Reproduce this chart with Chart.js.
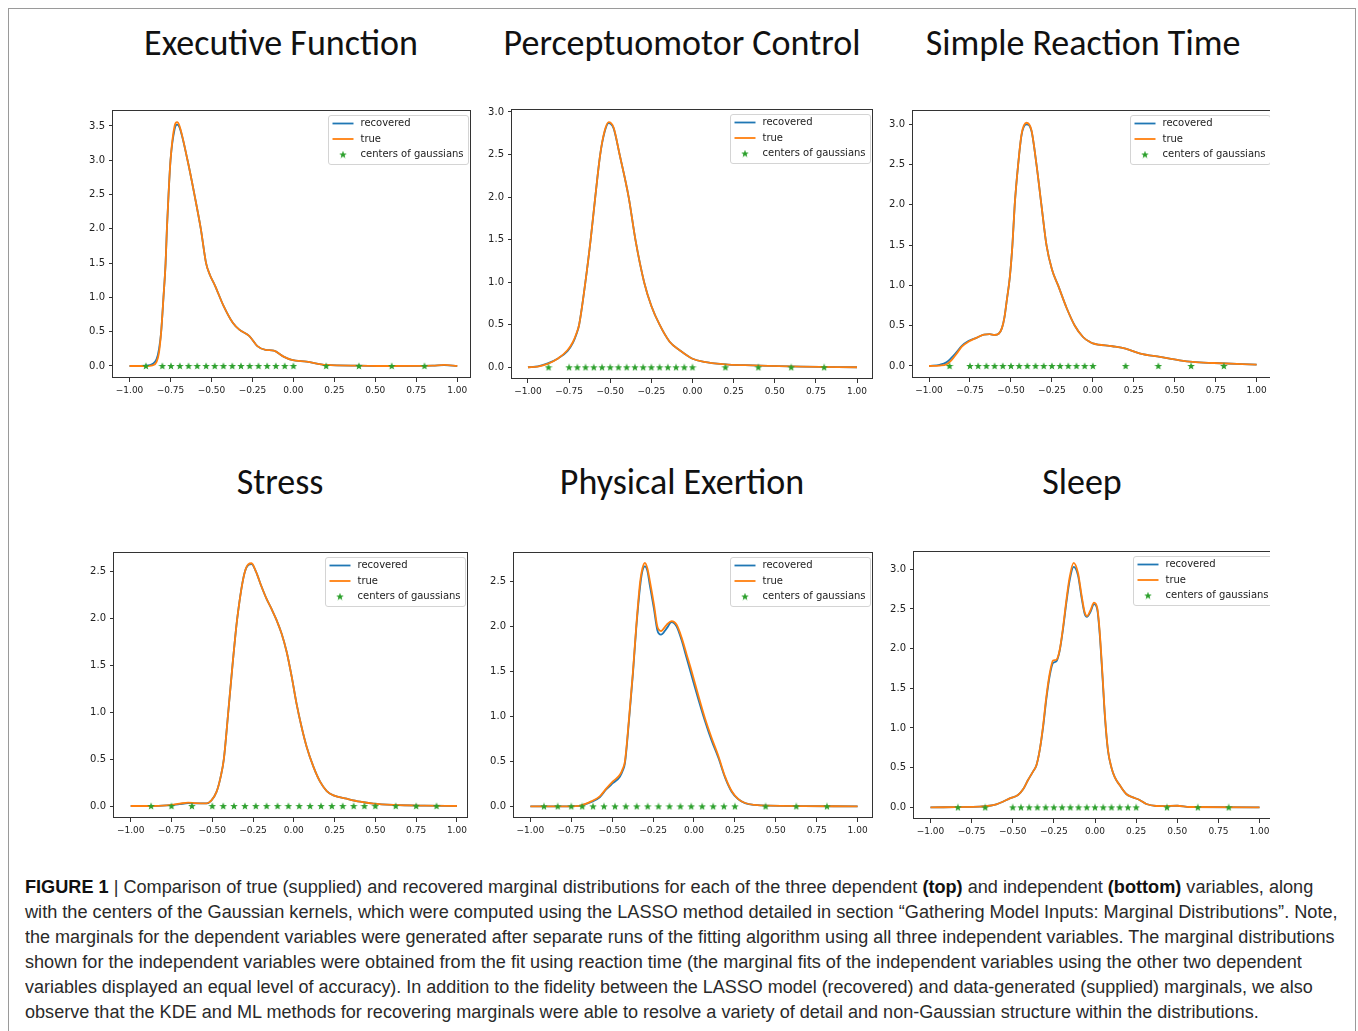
<!DOCTYPE html>
<html>
<head>
<meta charset="utf-8">
<script src="https://cdn.jsdelivr.net/npm/chart.js@4.4.1/dist/chart.umd.min.js"></script>
<style>
  html,body{margin:0;padding:0;background:#fff;}
  body{width:1358px;height:1031px;overflow:hidden;position:relative;}
  .frame{position:absolute;left:8px;top:8px;width:1348px;height:1100px;border:1px solid #9a9a9a;box-sizing:border-box;}
  .title{position:absolute;font-family:Carlito,Calibri,Lato,sans-serif;font-size:36px;line-height:36px;color:#111;white-space:nowrap;transform:translateX(-50%);}
  .cv{position:absolute;}
  .clip{position:absolute;left:0;top:0;width:1270px;height:1031px;overflow:hidden;}
  .cap{position:absolute;left:25px;font-family:"Liberation Sans",Arial,sans-serif;font-size:18px;line-height:18px;color:#2a2a2a;white-space:nowrap;transform-origin:0 50%;}
  .cap b{color:#111;}
</style>
</head>
<body>
<div class="frame"></div>
<div class="title" style="left:281px;top:25px;">Executive Function</div>
<div class="title" style="left:682px;top:25px;">Perceptuomotor Control</div>
<div class="title" style="left:1083px;top:25px;">Simple Reaction Time</div>
<div class="title" style="left:280px;top:464px;">Stress</div>
<div class="title" style="left:682px;top:464px;">Physical Exertion</div>
<div class="title" style="left:1082px;top:464px;">Sleep</div>
<div id="clip" class="clip"></div>

<div class="cap" data-w="1288" style="top:878px;"><b>FIGURE 1</b> | Comparison of true (supplied) and recovered marginal distributions for each of the three dependent <b>(top)</b> and independent <b>(bottom)</b> variables, along</div>
<div class="cap" data-w="1313" style="top:903px;">with the centers of the Gaussian kernels, which were computed using the LASSO method detailed in section “Gathering Model Inputs: Marginal Distributions”. Note,</div>
<div class="cap" data-w="1309" style="top:928px;">the marginals for the dependent variables were generated after separate runs of the fitting algorithm using all three independent variables. The marginal distributions</div>
<div class="cap" data-w="1277" style="top:953px;">shown for the independent variables were obtained from the fit using reaction time (the marginal fits of the independent variables using the other two dependent</div>
<div class="cap" data-w="1288" style="top:978px;">variables displayed an equal level of accuracy). In addition to the fidelity between the LASSO model (recovered) and data-generated (supplied) marginals, we also</div>
<div class="cap" data-w="0" style="top:1003px;">observe that the KDE and ML methods for recovering marginals were able to resolve a variety of detail and non-Gaussian structure within the distributions.</div>

<script>
// ---------------- DATA ----------------
const xTicks = [-1, -0.75, -0.5, -0.25, 0, 0.25, 0.5, 0.75, 1];
const yTicks35 = [0, 0.5, 1, 1.5, 2, 2.5, 3, 3.5];
const yTicks30 = [0, 0.5, 1, 1.5, 2, 2.5, 3];
const yTicks25 = [0, 0.5, 1, 1.5, 2, 2.5];
const legendLabels = ['recovered', 'true', 'centers of gaussians'];

// Executive Function
const efX = [-1.0, -0.9, -0.86, -0.835, -0.82, -0.807, -0.793, -0.78, -0.772, -0.762, -0.75, -0.725, -0.71, -0.695, -0.646, -0.604, -0.565, -0.533, -0.51, -0.478, -0.427, -0.37, -0.33, -0.27, -0.22, -0.17, -0.12, -0.06, -0.01, 0.08, 0.2, 0.4, 0.55, 0.85, 0.92, 1.0];
const efTrue = [0, 0, 0.01, 0.06, 0.2, 0.5, 1.0, 1.5, 2.0, 2.5, 3.0, 3.5, 3.555, 3.5, 3.0, 2.5, 2.0, 1.5, 1.33, 1.17, 0.88, 0.63, 0.53, 0.44, 0.29, 0.235, 0.224, 0.136, 0.088, 0.063, 0.015, 0.005, 0, 0.005, 0.015, 0];
const efRec = [0, 0.005, 0.03, 0.1, 0.25, 0.5, 1.0, 1.5, 2.0, 2.5, 3.0, 3.45, 3.52, 3.48, 3.0, 2.5, 2.0, 1.5, 1.33, 1.17, 0.88, 0.63, 0.53, 0.44, 0.29, 0.235, 0.224, 0.136, 0.088, 0.063, 0.015, 0.005, 0, 0.005, 0.012, 0];
const efCenters = [-0.9, -0.8, -0.747, -0.693, -0.64, -0.587, -0.533, -0.48, -0.427, -0.373, -0.32, -0.267, -0.213, -0.16, -0.107, -0.053, 0.0, 0.2, 0.4, 0.6, 0.8];

// Perceptuomotor Control
const pcX = [-1.0, -0.94, -0.88, -0.82, -0.76, -0.726, -0.705, -0.689, -0.651, -0.619, -0.591, -0.561, -0.535, -0.51, -0.48, -0.443, -0.388, -0.347, -0.294, -0.25, -0.2, -0.139, -0.078, 0.0, 0.07, 0.2, 0.32, 0.46, 0.66, 1.0];
const pcTrue = [0, 0.008, 0.04, 0.1, 0.2, 0.3, 0.4, 0.5, 1.0, 1.5, 2.0, 2.5, 2.77, 2.88, 2.82, 2.5, 2.0, 1.5, 1.0, 0.72, 0.5, 0.3, 0.2, 0.1, 0.063, 0.035, 0.024, 0.016, 0.008, 0];
const pcRec = [0, 0.01, 0.045, 0.1, 0.19, 0.29, 0.39, 0.5, 1.0, 1.5, 2.0, 2.5, 2.76, 2.87, 2.81, 2.5, 2.0, 1.5, 1.0, 0.72, 0.5, 0.3, 0.2, 0.1, 0.063, 0.035, 0.024, 0.016, 0.008, 0];
const pcCenters = [-0.875, -0.75, -0.7, -0.65, -0.6, -0.55, -0.5, -0.45, -0.4, -0.35, -0.3, -0.25, -0.2, -0.15, -0.1, -0.05, 0.0, 0.2, 0.4, 0.6, 0.8];

// Simple Reaction Time
const srX = [-1.0, -0.935, -0.894, -0.864, -0.833, -0.8, -0.76, -0.71, -0.665, -0.63, -0.6, -0.575, -0.555, -0.54, -0.525, -0.507, -0.491, -0.477, -0.456, -0.435, -0.405, -0.375, -0.344, -0.314, -0.283, -0.25, -0.212, -0.16, -0.11, -0.06, -0.02, 0.0, 0.12, 0.2, 0.29, 0.41, 0.53, 0.61, 0.74, 1.0];
const srTrue = [0, 0.005, 0.02, 0.07, 0.15, 0.24, 0.30, 0.35, 0.39, 0.395, 0.385, 0.4, 0.47, 0.6, 0.82, 1.1, 1.5, 2.0, 2.5, 2.88, 3.02, 2.93, 2.5, 2.0, 1.5, 1.2, 1.0, 0.72, 0.5, 0.36, 0.3, 0.28, 0.245, 0.215, 0.153, 0.112, 0.07, 0.05, 0.037, 0.017];
const srRec = [0, 0.015, 0.045, 0.1, 0.17, 0.25, 0.31, 0.35, 0.39, 0.395, 0.385, 0.4, 0.47, 0.6, 0.82, 1.1, 1.5, 2.0, 2.5, 2.87, 3.0, 2.92, 2.5, 2.0, 1.5, 1.2, 1.0, 0.72, 0.5, 0.36, 0.3, 0.28, 0.245, 0.215, 0.153, 0.112, 0.07, 0.05, 0.037, 0.017];
const srCenters = [-0.875, -0.75, -0.7, -0.65, -0.6, -0.55, -0.5, -0.45, -0.4, -0.35, -0.3, -0.25, -0.2, -0.15, -0.1, -0.05, 0.0, 0.2, 0.4, 0.6, 0.8];

// Stress
const stX = [-1.0, -0.88, -0.78, -0.7, -0.648, -0.6, -0.535, -0.505, -0.474, -0.45, -0.429, -0.402, -0.376, -0.347, -0.3, -0.259, -0.232, -0.2, -0.167, -0.136, -0.105, -0.075, -0.044, -0.013, 0.017, 0.048, 0.079, 0.12, 0.161, 0.202, 0.243, 0.324, 0.406, 0.488, 0.61, 0.8, 1.0];
const stTrue = [0, 0, 0.007, 0.025, 0.036, 0.03, 0.028, 0.06, 0.15, 0.3, 0.5, 1.0, 1.5, 2.0, 2.5, 2.59, 2.5, 2.35, 2.21, 2.1, 1.98, 1.84, 1.645, 1.38, 1.09, 0.84, 0.63, 0.42, 0.26, 0.16, 0.114, 0.078, 0.046, 0.025, 0.011, 0.003, 0];
const stRec = [0, 0, 0.006, 0.02, 0.03, 0.027, 0.027, 0.06, 0.15, 0.3, 0.5, 1.0, 1.5, 2.0, 2.5, 2.58, 2.5, 2.35, 2.21, 2.1, 1.98, 1.84, 1.645, 1.38, 1.09, 0.84, 0.63, 0.42, 0.26, 0.16, 0.114, 0.078, 0.046, 0.025, 0.011, 0.003, 0];
const stCenters = [-0.875, -0.75, -0.625, -0.5, -0.433, -0.367, -0.3, -0.233, -0.167, -0.1, -0.033, 0.033, 0.1, 0.167, 0.233, 0.3, 0.367, 0.433, 0.5, 0.625, 0.75, 0.875];

// Physical Exertion
const peX = [-1.0, -0.77, -0.688, -0.627, -0.576, -0.535, -0.494, -0.453, -0.435, -0.422, -0.396, -0.373, -0.353, -0.329, -0.315, -0.3, -0.285, -0.269, -0.245, -0.224, -0.202, -0.167, -0.137, -0.106, -0.076, -0.045, -0.014, 0.027, 0.067, 0.108, 0.149, 0.19, 0.231, 0.271, 0.312, 0.373, 0.455, 1.0];
const peTrue = [0, 0, 0.011, 0.056, 0.11, 0.2, 0.28, 0.35, 0.42, 0.5, 1.0, 1.5, 2.0, 2.5, 2.65, 2.71, 2.65, 2.5, 2.25, 2.0, 1.95, 2.02, 2.06, 2.02, 1.88, 1.69, 1.5, 1.23, 0.98, 0.76, 0.56, 0.33, 0.167, 0.08, 0.037, 0.015, 0.007, 0];
const peRec = [0, 0, 0.01, 0.05, 0.1, 0.19, 0.26, 0.33, 0.4, 0.48, 0.98, 1.48, 1.98, 2.45, 2.62, 2.67, 2.62, 2.45, 2.2, 1.96, 1.91, 1.98, 2.05, 2.0, 1.85, 1.65, 1.45, 1.19, 0.95, 0.73, 0.54, 0.32, 0.16, 0.078, 0.036, 0.015, 0.007, 0];
const peCenters = [-0.917, -0.833, -0.75, -0.683, -0.617, -0.55, -0.483, -0.417, -0.35, -0.283, -0.217, -0.15, -0.083, -0.017, 0.05, 0.117, 0.183, 0.25, 0.4375, 0.625, 0.8125];

// Sleep
const slX = [-1.0, -0.7, -0.64, -0.6, -0.56, -0.518, -0.468, -0.437, -0.407, -0.377, -0.356, -0.336, -0.316, -0.296, -0.275, -0.255, -0.235, -0.215, -0.194, -0.174, -0.154, -0.13, -0.103, -0.083, -0.063, -0.049, -0.028, -0.006, 0.014, 0.028, 0.045, 0.061, 0.079, 0.1, 0.12, 0.15, 0.19, 0.231, 0.271, 0.312, 0.372, 0.42, 0.5, 0.575, 1.0];
const slTrue = [0, 0.008, 0.02, 0.038, 0.07, 0.113, 0.155, 0.227, 0.344, 0.45, 0.53, 0.72, 1.02, 1.39, 1.69, 1.85, 1.86, 1.98, 2.27, 2.61, 2.90, 3.08, 2.95, 2.69, 2.46, 2.41, 2.48, 2.58, 2.51, 2.23, 1.69, 1.14, 0.72, 0.5, 0.38, 0.28, 0.168, 0.126, 0.092, 0.042, 0.017, 0.015, 0.02, 0.004, 0];
const slRec = [0, 0.008, 0.02, 0.038, 0.07, 0.113, 0.155, 0.227, 0.344, 0.45, 0.53, 0.72, 1.0, 1.36, 1.66, 1.82, 1.84, 1.97, 2.25, 2.58, 2.86, 3.03, 2.92, 2.66, 2.44, 2.4, 2.46, 2.56, 2.49, 2.2, 1.66, 1.12, 0.71, 0.5, 0.38, 0.28, 0.168, 0.126, 0.092, 0.042, 0.017, 0.015, 0.02, 0.004, 0];
const slCenters = [-0.833, -0.667, -0.5, -0.45, -0.4, -0.35, -0.3, -0.25, -0.2, -0.15, -0.1, -0.05, 0.0, 0.05, 0.1, 0.15, 0.2, 0.25, 0.4375, 0.625, 0.8125];

// ---------------- STYLE / LAYOUT ----------------
const COL_REC = '#1f77b4', COL_TRUE = '#ff7f0e', COL_CEN = '#2ca02c';
const panels = [
  {L:113, T:110, R:471, B:378, xMin:-1.101, xMax:1.084, yMin:-0.175, yMax:3.733, yT:yTicks35, xs:efX, tr:efTrue, rc:efRec, cen:efCenters, clip:false},
  {L:512, T:109, R:873, B:379, xMin:-1.097, xMax:1.097, yMin:-0.138, yMax:3.035, yT:yTicks30, xs:pcX, tr:pcTrue, rc:pcRec, cen:pcCenters, clip:false},
  {L:913, T:110, R:1273, B:378, xMin:-1.098, xMax:1.1, yMin:-0.149, yMax:3.178, yT:yTicks30, xs:srX, tr:srTrue, rc:srRec, cen:srCenters, clip:true},
  {L:114, T:552, R:468, B:818, xMin:-1.1025, xMax:1.068, yMin:-0.128, yMax:2.71, yT:yTicks25, xs:stX, tr:stTrue, rc:stRec, cen:stCenters, clip:false},
  {L:514, T:552, R:873, B:818, xMin:-1.1, xMax:1.094, yMin:-0.13, yMax:2.83, yT:yTicks25, xs:peX, tr:peTrue, rc:peRec, cen:peCenters, clip:false},
  {L:914, T:551, R:1276, B:819, xMin:-1.1, xMax:1.1, yMin:-0.147, yMax:3.23, yT:yTicks30, xs:slX, tr:slTrue, rc:slRec, cen:slCenters, clip:true}
];

function makeStar(size, color) {
  const c = document.createElement('canvas');
  c.width = size; c.height = size;
  const g = c.getContext('2d');
  g.fillStyle = color;
  g.beginPath();
  for (let i = 0; i < 10; i++) {
    const r = (i % 2) ? size * 0.21 : size * 0.5;
    const a = -Math.PI / 2 + i * Math.PI / 5;
    g.lineTo(size / 2 + r * Math.cos(a), size / 2 + r * Math.sin(a) + size * 0.04);
  }
  g.closePath();
  g.fill();
  return c;
}
const starImg = makeStar(8, COL_CEN);

const framePlugin = {
  id: 'frameLegend',
  afterDraw(chart) {
    const ctx = chart.ctx, a = chart.chartArea;
    ctx.save();
    ctx.strokeStyle = '#333';
    ctx.lineWidth = 1;
    ctx.strokeRect(Math.round(a.left) - 0.5, Math.round(a.top) + 0.5, Math.round(a.right - a.left), Math.round(a.bottom - a.top) - 1);
    // legend box
    const bw = 140, bh = 49;
    const bx = Math.round(a.right) - 3 - bw + 0.5, by = Math.round(a.top) + 5 + 0.5;
    ctx.fillStyle = 'rgba(255,255,255,0.85)';
    ctx.strokeStyle = '#d4d4d4';
    ctx.beginPath();
    const r = 2.5;
    ctx.moveTo(bx + r, by); ctx.lineTo(bx + bw - r, by); ctx.arcTo(bx + bw, by, bx + bw, by + r, r);
    ctx.lineTo(bx + bw, by + bh - r); ctx.arcTo(bx + bw, by + bh, bx + bw - r, by + bh, r);
    ctx.lineTo(bx + r, by + bh); ctx.arcTo(bx, by + bh, bx, by + bh - r, r);
    ctx.lineTo(bx, by + r); ctx.arcTo(bx, by, bx + r, by, r);
    ctx.closePath(); ctx.fill(); ctx.stroke();
    const rows = [by + 8, by + 23.5, by + 39];
    ctx.lineWidth = 1.8;
    ctx.strokeStyle = COL_REC;
    ctx.beginPath(); ctx.moveTo(bx + 4, rows[0]); ctx.lineTo(bx + 25, rows[0]); ctx.stroke();
    ctx.strokeStyle = COL_TRUE;
    ctx.beginPath(); ctx.moveTo(bx + 4, rows[1]); ctx.lineTo(bx + 25, rows[1]); ctx.stroke();
    ctx.drawImage(starImg, bx + 14.5 - 4, rows[2] - 4);
    ctx.fillStyle = '#222';
    ctx.font = '10px "DejaVu Sans"';
    ctx.textBaseline = 'middle';
    ctx.textAlign = 'left';
    for (let i = 0; i < 3; i++) ctx.fillText(legendLabels[i], bx + 32, rows[i]);
    ctx.restore();
  }
};

const PAD_L = 48, PAD_T = 16, PAD_R = 16, PAD_B = 28;
const clipDiv = document.getElementById('clip');

panels.forEach(p => {
  const cv = document.createElement('canvas');
  const w = p.R - p.L + PAD_L + PAD_R, h = p.B - p.T + PAD_T + PAD_B;
  cv.width = w; cv.height = h;
  cv.className = 'cv';
  cv.style.left = (p.L - PAD_L) + 'px';
  cv.style.top = (p.T - PAD_T) + 'px';
  cv.style.width = w + 'px';
  cv.style.height = h + 'px';
  (p.clip ? clipDiv : document.body).appendChild(cv);

  new Chart(cv, {
    type: 'line',
    data: {
      datasets: [
        {label: legendLabels[2], data: p.cen.map(x => ({x: x, y: 0})), showLine: false,
         pointStyle: starImg, pointRadius: 4, pointHoverRadius: 4, order: 0},
        {label: legendLabels[1], data: p.xs.map((x, i) => ({x: x, y: p.tr[i]})), borderColor: COL_TRUE,
         borderWidth: 1.8, pointRadius: 0, cubicInterpolationMode: 'monotone', fill: false, order: 1},
        {label: legendLabels[0], data: p.xs.map((x, i) => ({x: x, y: p.rc[i]})), borderColor: COL_REC,
         borderWidth: 1.8, pointRadius: 0, cubicInterpolationMode: 'monotone', fill: false, order: 2}
      ]
    },
    options: {
      responsive: false,
      animation: false,
      devicePixelRatio: 1,
      events: [],
      layout: {padding: {left: 0, top: PAD_T, right: PAD_R, bottom: 0}},
      plugins: {legend: {display: false}, tooltip: {enabled: false}},
      scales: {
        x: {
          type: 'linear', min: p.xMin, max: p.xMax,
          afterBuildTicks: s => { s.ticks = xTicks.map(v => ({value: v})); },
          afterFit: s => { s.height = PAD_B; },
          ticks: {
            callback: v => (v < 0 ? '\u2212' : '') + Math.abs(v).toFixed(2),
            font: {family: 'DejaVu Sans', size: 9}, color: '#222',
            maxRotation: 0, autoSkip: false, padding: 3
          },
          grid: {drawOnChartArea: false, drawTicks: true, tickLength: 4, color: '#333', lineWidth: 1},
          border: {display: false}
        },
        y: {
          type: 'linear', min: p.yMin, max: p.yMax,
          afterBuildTicks: s => { s.ticks = p.yT.map(v => ({value: v})); },
          afterFit: s => { s.width = PAD_L; },
          ticks: {
            callback: v => v.toFixed(1),
            font: {family: 'DejaVu Sans', size: 10}, color: '#222',
            autoSkip: false, padding: 4
          },
          grid: {drawOnChartArea: false, drawTicks: true, tickLength: 4, color: '#333', lineWidth: 1},
          border: {display: false}
        }
      }
    },
    plugins: [framePlugin]
  });
});

// caption lines: fit each full line to its width in the figure; the last line uses the mean factor
const capLines = Array.from(document.querySelectorAll('.cap'));
const factors = [];
capLines.forEach(el => {
  const target = parseFloat(el.dataset.w);
  const nat = el.scrollWidth;
  if (target > 0 && nat > 0) factors.push(target / nat);
});
const meanF = factors.reduce((s, f) => s + f, 0) / Math.max(factors.length, 1);
capLines.forEach(el => {
  const target = parseFloat(el.dataset.w);
  const nat = el.scrollWidth;
  const f = (target > 0 && nat > 0) ? target / nat : meanF;
  el.style.transform = 'scaleX(' + f.toFixed(4) + ')';
});
</script>
</body>
</html>
